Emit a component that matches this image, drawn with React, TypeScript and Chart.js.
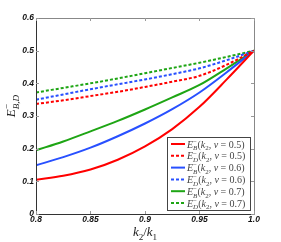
import React, { useEffect, useRef } from "react";
import { Chart, registerables } from "chart.js";

Chart.register(...registerables);

const K_RATIO = [0.8, 0.825, 0.85, 0.875, 0.9, 0.925, 0.95, 0.975, 1.0];
const E_B_V05 = [0.105, 0.117, 0.136, 0.166, 0.207, 0.26, 0.328, 0.412, 0.5];
const E_D_V05 = [0.337, 0.348, 0.361, 0.374, 0.389, 0.405, 0.423, 0.457, 0.5];
const E_B_V06 = [0.149, 0.174, 0.203, 0.238, 0.277, 0.321, 0.372, 0.434, 0.5];
const E_D_V06 = [0.35, 0.366, 0.382, 0.397, 0.412, 0.428, 0.446, 0.471, 0.5];
const E_B_V07 = [0.195, 0.222, 0.253, 0.285, 0.32, 0.357, 0.395, 0.446, 0.5];
const E_D_V07 = [0.372, 0.386, 0.4, 0.415, 0.431, 0.447, 0.463, 0.481, 0.5];

const X_TICK_VALUES = [0.8, 0.85, 0.9, 0.95, 1.0];
const X_TICK_LABELS = ["0.8", "0.85", "0.9", "0.95", "1.0"];
const Y_TICK_VALUES = [0, 0.1, 0.2, 0.3, 0.4, 0.5, 0.6];
const Y_TICK_LABELS = ["0", "0.1", "0.2", "0.3", "0.4", "0.5", "0.6"];

const V_LABELS = ["0.5", "0.5", "0.6", "0.6", "0.7", "0.7"];
const SUBS = ["B", "D", "B", "D", "B", "D"];

const RED = "rgb(255,0,0)";
const BLUE = "rgb(40,80,255)";
const GREEN = "rgb(30,165,20)";

const SERIES = [
  { data: E_B_V05, color: RED, dashed: false },
  { data: E_D_V05, color: RED, dashed: true },
  { data: E_B_V06, color: BLUE, dashed: false },
  { data: E_D_V06, color: BLUE, dashed: true },
  { data: E_B_V07, color: GREEN, dashed: false },
  { data: E_D_V07, color: GREEN, dashed: true },
];

type Seg = { t: string; italic?: boolean; pos?: "base" | "sub" | "sup"; hold?: boolean };

function drawSegs(ctx: CanvasRenderingContext2D, x: number, y: number, segs: Seg[], size: number, family: string) {
  let cx = x;
  let holdStart: number | null = null;
  let holdW = 0;
  for (const s of segs) {
    const pos = s.pos || "base";
    const fs = pos === "base" ? size : size * 0.7;
    const dy = pos === "sub" ? size * 0.28 : pos === "sup" ? -size * 0.38 : 0;
    ctx.font = `${s.italic ? "italic " : ""}${fs}px ${family}`;
    const w = ctx.measureText(s.t).width;
    if (s.hold) {
      holdStart = cx;
      holdW = w;
      ctx.fillText(s.t, cx, y + dy);
      continue;
    }
    if (holdStart !== null) {
      ctx.fillText(s.t, holdStart, y + dy);
      cx = holdStart + Math.max(w, holdW);
      holdStart = null;
    } else {
      ctx.fillText(s.t, cx, y + dy);
      cx += w;
    }
  }
  return cx - x;
}

function measureSegs(ctx: CanvasRenderingContext2D, segs: Seg[], size: number, family: string) {
  let total = 0;
  let holdW = 0;
  let holding = false;
  for (const s of segs) {
    const pos = s.pos || "base";
    const fs = pos === "base" ? size : size * 0.7;
    ctx.font = `${s.italic ? "italic " : ""}${fs}px ${family}`;
    const w = ctx.measureText(s.t).width;
    if (s.hold) {
      holding = true;
      holdW = w;
      continue;
    }
    if (holding) {
      total += Math.max(w, holdW);
      holding = false;
    } else total += w;
  }
  return total;
}

const SERIF = "'Liberation Serif', 'DejaVu Serif', serif";

const decorPlugin = {
  id: "decor",
  afterDraw(chart: any) {
    const ctx: CanvasRenderingContext2D = chart.ctx;
    const { left, right, top, bottom } = chart.chartArea;
    const xs = chart.scales.x;
    const ys = chart.scales.y;
    ctx.save();
    // frame
    ctx.lineWidth = 1;
    ctx.strokeStyle = "#888";
    ctx.beginPath();
    ctx.moveTo(left, top + 0.5);
    ctx.lineTo(right + 0.5, top + 0.5);
    ctx.lineTo(right + 0.5, bottom);
    ctx.stroke();
    ctx.strokeStyle = "#333";
    ctx.beginPath();
    ctx.moveTo(left + 0.5, top);
    ctx.lineTo(left + 0.5, bottom + 0.5);
    ctx.lineTo(right + 0.5, bottom + 0.5);
    ctx.stroke();
    // inward ticks
    ctx.strokeStyle = "#999";
    ctx.beginPath();
    for (const v of X_TICK_VALUES) {
      const px = Math.round(xs.getPixelForValue(v)) + 0.5;
      ctx.moveTo(px, bottom);
      ctx.lineTo(px, bottom - 3);
      ctx.moveTo(px, top);
      ctx.lineTo(px, top + 3);
    }
    for (const v of Y_TICK_VALUES) {
      const py = Math.round(ys.getPixelForValue(v)) + 0.5;
      ctx.moveTo(left, py);
      ctx.lineTo(left + 3, py);
      ctx.moveTo(right, py);
      ctx.lineTo(right - 3, py);
    }
    ctx.stroke();

    // x title
    ctx.fillStyle = "#222";
    ctx.textBaseline = "alphabetic";
    ctx.textAlign = "left";
    const xt: Seg[] = [
      { t: "k", italic: true },
      { t: "2", pos: "sub" },
      { t: "/", },
      { t: "k", italic: true },
      { t: "1", pos: "sub" },
    ];
    const xw = measureSegs(ctx, xt, 13, SERIF);
    drawSegs(ctx, (left + right) / 2 - xw / 2, 236, xt, 13, SERIF);

    // y title
    const yt: Seg[] = [
      { t: "E", italic: true },
      { t: "\u2212", pos: "sup", hold: true },
      { t: "B,D", italic: true, pos: "sub" },
    ];
    const yw = measureSegs(ctx, yt, 13, SERIF);
    ctx.save();
    ctx.translate(15, 106);
    ctx.rotate(-Math.PI / 2);
    drawSegs(ctx, -yw / 2, 0, yt, 13, SERIF);
    ctx.restore();

    // legend
    const lx = 167, ly = 137, lw = 83, lh = 73;
    ctx.fillStyle = "#fff";
    ctx.fillRect(lx, ly, lw, lh);
    ctx.strokeStyle = "#444";
    ctx.lineWidth = 1;
    ctx.strokeRect(lx + 0.5, ly + 0.5, lw, lh);
    const rowH = 11.8;
    SERIES.forEach((s, i) => {
      const cy = ly + 7 + i * rowH;
      ctx.strokeStyle = s.color;
      ctx.lineWidth = 2;
      ctx.setLineDash(s.dashed ? [3, 2] : []);
      ctx.beginPath();
      ctx.moveTo(lx + 4, cy);
      ctx.lineTo(lx + 18, cy);
      ctx.stroke();
      ctx.setLineDash([]);
      ctx.fillStyle = "#444";
      const segs: Seg[] = [
        { t: "E", italic: true },
        { t: "\u2212", pos: "sup", hold: true },
        { t: SUBS[i], italic: true, pos: "sub" },
        { t: "(" },
        { t: "k", italic: true },
        { t: "2", pos: "sub" },
        { t: ", " },
        { t: "v", italic: true },
        { t: " = " + V_LABELS[i] + ")" },
      ];
      drawSegs(ctx, lx + 20, cy + 3.5, segs, 10, SERIF);
    });
    ctx.restore();
  },
};

export default function App() {
  const ref = useRef<HTMLCanvasElement | null>(null);
  useEffect(() => {
    if (!ref.current) return;
    const tickFont = { family: "'Liberation Sans', Arial, sans-serif", size: 8.5, style: "italic" as const, weight: "bold" as const };
    const chart = new Chart(ref.current, {
      type: "line",
      data: {
        datasets: SERIES.map((s, i) => ({
          label: "s" + i,
          data: K_RATIO.map((k, j) => ({ x: k, y: s.data[j] })),
          borderColor: s.color,
          backgroundColor: s.color,
          borderWidth: 2,
          borderDash: s.dashed ? [3, 2] : [],
          pointRadius: 0,
          cubicInterpolationMode: "monotone" as const,
          fill: false,
        })),
      },
      options: {
        responsive: false,
        animation: false,
        layout: { padding: { left: 0, top: 18, right: 27, bottom: 0 } },
        plugins: { legend: { display: false }, tooltip: { enabled: false } },
        scales: {
          x: {
            type: "linear",
            min: 0.8,
            max: 1.0,
            afterBuildTicks: (scale: any) => {
              scale.ticks = X_TICK_VALUES.map((v) => ({ value: v }));
            },
            afterFit: (scale: any) => {
              scale.height = 28;
            },
            ticks: {
              autoSkip: false,
              maxRotation: 0,
              padding: 1,
              color: "#111",
              font: tickFont,
              callback: (_v: any, i: number) => X_TICK_LABELS[i],
            },
            grid: { display: false, drawTicks: false },
            border: { display: false },
          },
          y: {
            type: "linear",
            min: 0,
            max: 0.6,
            afterBuildTicks: (scale: any) => {
              scale.ticks = Y_TICK_VALUES.map((v) => ({ value: v }));
            },
            afterFit: (scale: any) => {
              scale.width = 36;
            },
            ticks: {
              autoSkip: false,
              padding: 2,
              color: "#111",
              font: tickFont,
              callback: (_v: any, i: number) => Y_TICK_LABELS[i],
            },
            grid: { display: false, drawTicks: false },
            border: { display: false },
          },
        },
      },
      plugins: [decorPlugin],
    } as any);
    return () => chart.destroy();
  }, []);
  return (
    <div style={{ position: "absolute", left: 0, top: 0, width: 281, height: 242, background: "#fff" }}>
      <canvas ref={ref} width={281} height={242} style={{ width: 281, height: 242, display: "block" }} />
    </div>
  );
}
